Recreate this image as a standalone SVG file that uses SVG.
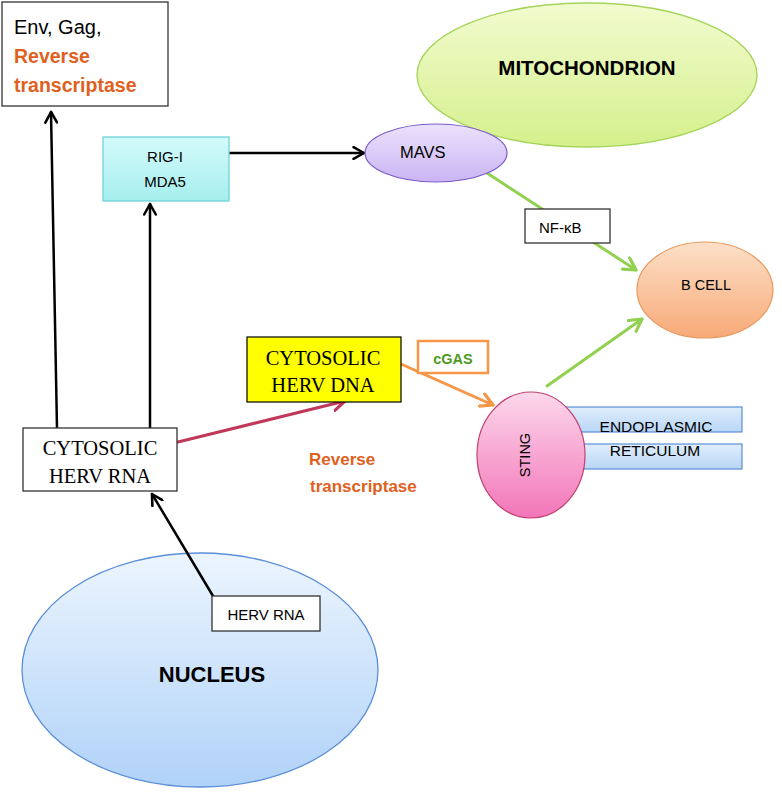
<svg xmlns="http://www.w3.org/2000/svg" width="782" height="795" viewBox="0 0 782 795">
<style>
.s{font-family:"Liberation Sans",Arial,sans-serif;fill:#000}
.t{font-family:"Liberation Serif","Times New Roman",serif;fill:#000}
.b{font-weight:bold}
.or{fill:#e0601e}
.box{fill:#fff;stroke:#333;stroke-width:1.3}
.c{stroke-linecap:round;fill:none}
</style>
<defs>
<linearGradient id="gMito" x1="0" y1="0" x2="0" y2="1"><stop offset="0" stop-color="#f2fbcf"/><stop offset="1" stop-color="#d5f08c"/></linearGradient>
<linearGradient id="gRig" x1="0" y1="0" x2="0" y2="1"><stop offset="0" stop-color="#d4fafa"/><stop offset="1" stop-color="#a6eeee"/></linearGradient>
<linearGradient id="gMavs" x1="0" y1="0" x2="0" y2="1"><stop offset="0" stop-color="#ece2fc"/><stop offset="1" stop-color="#cab4f4"/></linearGradient>
<linearGradient id="gB" x1="0" y1="0" x2="0" y2="1"><stop offset="0" stop-color="#fde0c8"/><stop offset="1" stop-color="#f8aa78"/></linearGradient>
<linearGradient id="gSting" x1="0" y1="0" x2="0" y2="1"><stop offset="0" stop-color="#fdd8ec"/><stop offset="1" stop-color="#f275b8"/></linearGradient>
<linearGradient id="gEr" x1="0" y1="0" x2="0" y2="1"><stop offset="0" stop-color="#e0eefc"/><stop offset="1" stop-color="#b8d6f6"/></linearGradient>
<linearGradient id="gNuc" x1="0" y1="0" x2="0" y2="1"><stop offset="0" stop-color="#ecf5fe"/><stop offset="1" stop-color="#b0d2f8"/></linearGradient>
<marker id="aK" viewBox="0 0 12 12" refX="10" refY="6" markerWidth="14" markerHeight="14" markerUnits="userSpaceOnUse" orient="auto"><path d="M1,1 L10,6 L1,11" fill="none" stroke="#000" stroke-width="2.2" stroke-linecap="round" stroke-linejoin="round"/></marker>
<marker id="aG" viewBox="0 0 12 12" refX="10" refY="6" markerWidth="16" markerHeight="16" markerUnits="userSpaceOnUse" orient="auto"><path d="M1,1 L10,6 L1,11" fill="none" stroke="#92d050" stroke-width="2.4" stroke-linecap="round" stroke-linejoin="round"/></marker>
<marker id="aO" viewBox="0 0 12 12" refX="10" refY="6" markerWidth="16" markerHeight="16" markerUnits="userSpaceOnUse" orient="auto"><path d="M1,1 L10,6 L1,11" fill="none" stroke="#f79646" stroke-width="2.4" stroke-linecap="round" stroke-linejoin="round"/></marker>
<marker id="aR" viewBox="0 0 12 12" refX="10" refY="6" markerWidth="16" markerHeight="16" markerUnits="userSpaceOnUse" orient="auto"><path d="M1,1 L10,6 L1,11" fill="none" stroke="#c0395a" stroke-width="2.4" stroke-linecap="round" stroke-linejoin="round"/></marker>
</defs>

<g id="mitochondrion">
<ellipse cx="587" cy="75" rx="170" ry="72" fill="url(#gMito)" stroke="#a5d45a" stroke-width="1.3"/>
<text class="s b" x="587" y="75" font-size="20.5" text-anchor="middle">MITOCHONDRION</text>
</g>

<g id="nucleus">
<ellipse cx="200" cy="670" rx="178" ry="117" fill="url(#gNuc)" stroke="#5b8fd8" stroke-width="1.3"/>
<text class="s b" x="212" y="682" font-size="22" text-anchor="middle">NUCLEUS</text>
</g>

<g id="er">
<rect x="545" y="407" width="197" height="25" fill="url(#gEr)" stroke="#5b8fd8" stroke-width="1.2"/>
<rect x="545" y="444" width="197" height="25" fill="url(#gEr)" stroke="#5b8fd8" stroke-width="1.2"/>
<text class="s" x="656" y="432" font-size="15.5" text-anchor="middle">ENDOPLASMIC</text>
<text class="s" x="655" y="456" font-size="15.5" text-anchor="middle">RETICULUM</text>
</g>

<g id="connectors">
<line class="c" x1="57" y1="428" x2="51" y2="112" stroke="#000" stroke-width="2.5" marker-end="url(#aK)"/>
<line class="c" x1="150" y1="428" x2="150" y2="204" stroke="#000" stroke-width="2.5" marker-end="url(#aK)"/>
<line class="c" x1="229" y1="153" x2="364" y2="153" stroke="#000" stroke-width="2.5" marker-end="url(#aK)"/>
<line class="c" x1="213" y1="596" x2="152" y2="494" stroke="#000" stroke-width="2.5" marker-end="url(#aK)"/>
<line class="c" x1="487" y1="173" x2="636" y2="270" stroke="#92d050" stroke-width="3" marker-end="url(#aG)"/>
<line class="c" x1="547" y1="386" x2="642" y2="319" stroke="#92d050" stroke-width="3" marker-end="url(#aG)"/>
<line class="c" x1="401" y1="364" x2="493" y2="405" stroke="#f79646" stroke-width="3" marker-end="url(#aO)"/>
<line class="c" x1="178" y1="442" x2="345" y2="401" stroke="#c0395a" stroke-width="3" marker-end="url(#aR)"/>
</g>

<g id="env">
<rect class="box" x="2" y="2" width="166" height="104"/>
<text class="s" x="14" y="34" font-size="20">Env, Gag,</text>
<text class="s b or" x="14" y="63" font-size="19.5">Reverse</text>
<text class="s b or" x="14" y="92" font-size="19.5">transcriptase</text>
</g>

<g id="rigi">
<rect x="103" y="137" width="126" height="64" fill="url(#gRig)" stroke="#6fd3d8" stroke-width="1.3"/>
<text class="s" x="165" y="162" font-size="15" text-anchor="middle">RIG-I</text>
<text class="s" x="165" y="187" font-size="15" text-anchor="middle">MDA5</text>
</g>

<g id="mavs">
<ellipse cx="436" cy="153" rx="71" ry="29" fill="url(#gMavs)" stroke="#7a5cc8" stroke-width="1.2"/>
<text class="s" x="400" y="158" font-size="16.5">MAVS</text>
</g>

<g id="nfkb">
<rect class="box" x="525" y="209" width="85" height="34"/>
<text class="s" x="539" y="233" font-size="15">NF-κB</text>
</g>

<g id="bcell">
<ellipse cx="705" cy="290" rx="68" ry="48" fill="url(#gB)" stroke="#e8985e" stroke-width="1.2"/>
<text class="s" x="706" y="290" font-size="14.5" text-anchor="middle">B CELL</text>
</g>

<g id="dna">
<rect x="247" y="337" width="154" height="65" fill="#ffff00" stroke="#000" stroke-width="1.2"/>
<text class="t" x="323" y="365" font-size="20.5" text-anchor="middle">CYTOSOLIC</text>
<text class="t" x="323" y="392" font-size="20.5" text-anchor="middle">HERV DNA</text>
</g>

<g id="cgas">
<rect x="418" y="341" width="70" height="32" fill="#fff" stroke="#f79646" stroke-width="2.5"/>
<text class="s b" x="453" y="364" font-size="14.5" text-anchor="middle" style="fill:#4e9a1e">cGAS</text>
</g>

<g id="sting">
<ellipse cx="531" cy="455" rx="54" ry="63" fill="url(#gSting)" stroke="#c0406e" stroke-width="1.2"/>
<text class="s" x="0" y="0" font-size="14.5" text-anchor="middle" transform="translate(530,455) rotate(-90)">STING</text>
</g>

<g id="rt-label">
<text class="s b or" x="309" y="465" font-size="17">Reverse</text>
<text class="s b or" x="310" y="492" font-size="17">transcriptase</text>
</g>

<g id="rna">
<rect class="box" x="23" y="428" width="154" height="63"/>
<text class="t" x="100" y="455" font-size="20.5" text-anchor="middle">CYTOSOLIC</text>
<text class="t" x="100" y="483" font-size="20.5" text-anchor="middle">HERV RNA</text>
</g>

<g id="hervrna">
<rect class="box" x="212" y="596" width="108" height="35"/>
<text class="s" x="266" y="620" font-size="15" text-anchor="middle">HERV RNA</text>
</g>
</svg>
